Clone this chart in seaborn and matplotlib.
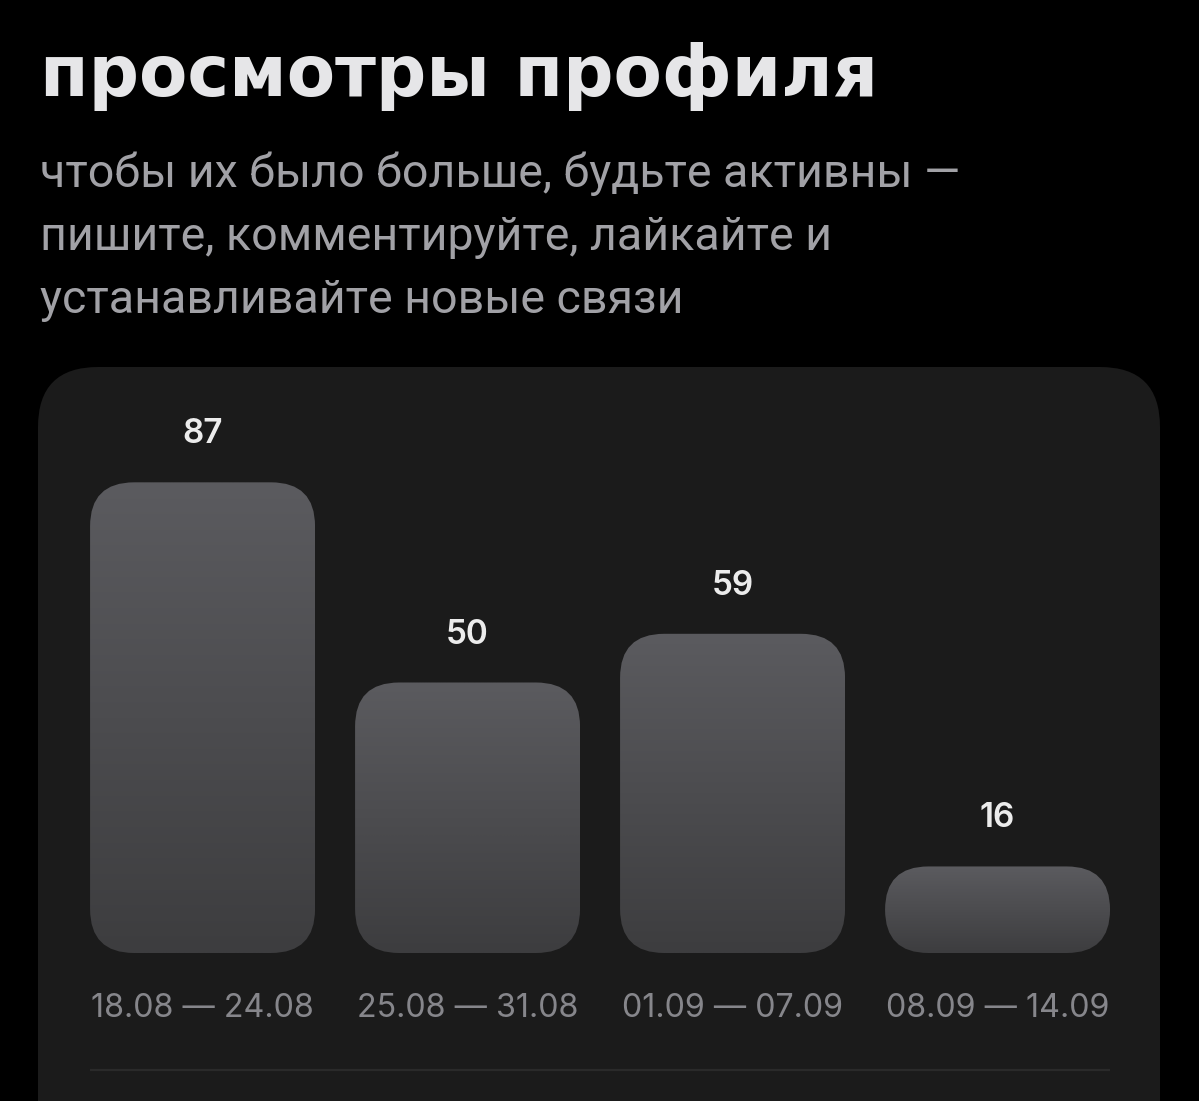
import numpy as np
import pandas as pd
import matplotlib
matplotlib.use("Agg")
import matplotlib.pyplot as plt
from matplotlib.patches import FancyBboxPatch
from matplotlib.colors import LinearSegmentedColormap
import seaborn as sns

# ---- data ----
periods = ["18.08 — 24.08", "25.08 — 31.08", "01.09 — 07.09", "08.09 — 14.09"]
views = [87, 50, 59, 16]
title = "просмотры профиля"
subtitle_lines = [
    "чтобы их было больше, будьте активны —",
    "пишите, комментируйте, лайкайте и",
    "устанавливайте новые связи",
]

W, H, DPI = 1199, 1101, 100
sns.set_theme(style="dark")
plt.rcParams["font.family"] = ["Inter", "Roboto", "DejaVu Sans"]

fig = plt.figure(figsize=(W / DPI, H / DPI), dpi=DPI, facecolor="black")

# background / layout axes in pixel coordinates
bg = fig.add_axes([0, 0, 1, 1])
bg.set_xlim(0, W)
bg.set_ylim(H, 0)
bg.axis("off")

card = FancyBboxPatch((38, 367), 1122, 900, boxstyle="round,pad=0,rounding_size=60",
                      fc="#1b1b1b", ec="none", zorder=0)
bg.add_patch(card)
bg.plot([90, 1110], [1070, 1070], color="#2a2a2a", lw=1.6, solid_capstyle="butt", zorder=1)

t_title = bg.text(40, 96, title, fontsize=40, family=["DejaVu Sans"], weight="bold",
                  color="#e6e6e8", va="baseline", ha="left")
sub_texts = []
for i, line in enumerate(subtitle_lines):
    sub_texts.append(bg.text(40, 187 + 63 * i, line, fontsize=30, family=["Roboto", "DejaVu Sans"],
                             color="#a1a1a6", va="baseline", ha="left"))

# ---- bar axes ----
base_px, top_px = 953, 367
ppy = 5.41  # pixels per view
ax_h_px = base_px - top_px
ax = fig.add_axes([38 / W, (H - base_px) / H, 1122 / W, ax_h_px / H])
df = pd.DataFrame({"period": periods, "views": views})
sns.barplot(data=df, x="period", y="views", width=0.849, color="#4a4a4d",
            saturation=1, ax=ax)
xlim = (-0.621, 3.613)
ylim = (0, ax_h_px / ppy)
ax.set_facecolor("none")
for s in ax.spines.values():
    s.set_visible(False)
ax.set_xlabel("")
ax.set_ylabel("")
ax.set_yticks([])
ax.grid(False)
ax.tick_params(axis="x", length=0, pad=29, labelsize=24.5, labelcolor="#86868b")

ppx = 1122 / (xlim[1] - xlim[0])
aspect = ppx / ppy
r_px = 44
cmap = LinearSegmentedColormap.from_list("bargrad", ["#3d3d3f", "#5b5b5f"])
grad = np.linspace(0, 1, 256).reshape(-1, 1)

for p, v in zip(list(ax.patches), views):
    x0, w, h = p.get_x(), p.get_width(), p.get_height()
    p.remove()
    r = min(r_px / ppx, w / 2, (h / aspect) / 2)
    rp = FancyBboxPatch((x0, 0), w, h, boxstyle=f"round,pad=0,rounding_size={r}",
                        mutation_aspect=aspect, fc="none", ec="none")
    ax.add_patch(rp)
    im = ax.imshow(grad, extent=[x0, x0 + w, 0, h], origin="lower", aspect="auto",
                   cmap=cmap, zorder=2, interpolation="bilinear")
    im.set_clip_path(rp)
    ax.text(x0 + w / 2, h + 48 / ppy, f"{v}", ha="center", va="center",
            fontsize=24, weight="semibold", color="#ececec", zorder=3)

ax.set_xlim(*xlim)
ax.set_ylim(*ylim)

# ---- fit text widths to the layout ----
fig.canvas.draw()
rend = fig.canvas.get_renderer()
def fit(texts, target):
    wpx = texts[0].get_window_extent(rend).width
    fs = texts[0].get_fontsize() * target / wpx
    for t in texts:
        t.set_fontsize(fs)
fit([t_title], 838)
fit(sub_texts, 918)
labs = ax.get_xticklabels()
wl = labs[0].get_window_extent(rend).width
fs_l = labs[0].get_fontsize() * 223 / wl
ax.tick_params(axis="x", labelsize=fs_l)

fig.savefig("out.png", dpi=DPI, facecolor="black")
